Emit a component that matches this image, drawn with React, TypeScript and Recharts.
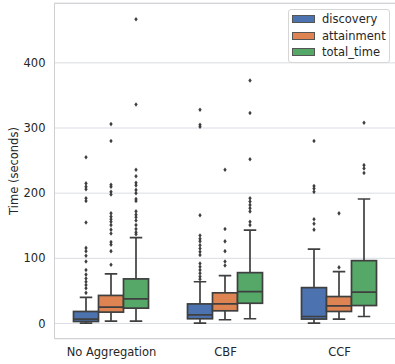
import React from 'react';
import { ComposedChart, Bar, XAxis, YAxis, CartesianGrid, Legend, ReferenceArea, Label } from 'recharts';

const categories = ['No Aggregation', 'CBF', 'CCF'];
const hues = ['discovery', 'attainment', 'total_time'];
const hueColors = ['#4c72b0', '#dd8452', '#55a868'];
const yTicks = [0, 100, 200, 300, 400];
const yDomain = [-23.4, 491.4];

const discoveryLow = [0.5, 0.6, 0.6];
const discoveryQ1 = [3, 7.2, 6.7];
const discoveryMedian = [6.7, 13.3, 10.7];
const discoveryQ3 = [18.4, 30, 55];
const discoveryHigh = [40, 64, 114];
const discoveryOutliers = [
  [255, 215, 210, 206, 192, 188, 155, 116, 111, 104, 95, 82, 75, 69, 64, 59, 54, 47],
  [328, 305, 302, 166, 135, 130, 126, 120, 115, 110, 105, 92, 87, 82, 77, 72, 68],
  [280, 211, 207, 202, 160, 153, 144],
];

const attainmentLow = [3.7, 5.7, 6.7];
const attainmentQ1 = [17.4, 19.4, 18.4];
const attainmentMedian = [25, 30, 27];
const attainmentQ3 = [43, 47, 41.3];
const attainmentHigh = [76, 73.5, 79.6];
const attainmentOutliers = [
  [306, 280, 213, 210, 202, 198, 169, 164, 160, 156, 151, 144, 138, 125, 121, 111, 90],
  [236, 145, 126, 111, 95, 89],
  [169, 86],
];

const totalLow = [3.7, 7.2, 10.7];
const totalQ1 = [23.5, 31, 27.5];
const totalMedian = [37.8, 49, 48];
const totalQ3 = [68.4, 78, 96.4];
const totalHigh = [131.6, 143.4, 191];
const totalOutliers = [
  [467, 336, 236, 226, 216, 212, 205, 200, 191, 188, 172, 167, 163, 158, 151, 145, 140, 137],
  [373, 323, 252, 192, 187, 182, 177, 172, 156, 151],
  [308, 243, 238, 231],
];

const stats: Record<string, any> = {
  discovery: { low: discoveryLow, q1: discoveryQ1, med: discoveryMedian, q3: discoveryQ3, high: discoveryHigh, out: discoveryOutliers },
  attainment: { low: attainmentLow, q1: attainmentQ1, med: attainmentMedian, q3: attainmentQ3, high: attainmentHigh, out: attainmentOutliers },
  total_time: { low: totalLow, q1: totalQ1, med: totalMedian, q3: totalQ3, high: totalHigh, out: totalOutliers },
};

const data = categories.map((c, i) => {
  const row: any = { category: c };
  hues.forEach((h) => {
    row[h] = [stats[h].low[i], stats[h].high[i]];
  });
  return row;
});

const EDGE = '#3f3f3f';
const FONT = 'DejaVu Sans';
const FS = 11.5;
const SW = 1.7;

function makeBoxShape(hue: string, color: string) {
  return (props: any) => {
    const { x, y, width, height, index } = props;
    const s = stats[hue];
    const lo = s.low[index];
    const hi = s.high[index];
    const py = (v: number) => y + ((hi - v) / (hi - lo)) * height;
    const cx = x + width / 2;
    const capHalf = width / 4;
    const yq1 = py(s.q1[index]);
    const yq3 = py(s.q3[index]);
    const ymed = py(s.med[index]);
    const ylo = py(lo);
    const yhi = py(hi);
    return (
      <g>
        <line x1={cx} x2={cx} y1={yq3} y2={yhi} stroke={EDGE} strokeWidth={SW} />
        <line x1={cx} x2={cx} y1={yq1} y2={ylo} stroke={EDGE} strokeWidth={SW} />
        <line x1={cx - capHalf} x2={cx + capHalf} y1={yhi} y2={yhi} stroke={EDGE} strokeWidth={SW} />
        <line x1={cx - capHalf} x2={cx + capHalf} y1={ylo} y2={ylo} stroke={EDGE} strokeWidth={SW} />
        <rect x={x} y={yq3} width={width} height={yq1 - yq3} fill={color} stroke={EDGE} strokeWidth={SW} />
        <line x1={x} x2={x + width} y1={ymed} y2={ymed} stroke={EDGE} strokeWidth={SW} />
        {s.out[index].map((v: number, k: number) => {
          const oy = py(v);
          return (
            <polygon
              key={k}
              points={`${cx},${oy - 2.3} ${cx + 1.7},${oy} ${cx},${oy + 2.3} ${cx - 1.7},${oy}`}
              fill={EDGE}
            />
          );
        })}
      </g>
    );
  };
}

const renderLegend = () => (
  <div
    style={{
      boxSizing: 'border-box',
      width: 102,
      height: 54,
      background: 'rgba(255,255,255,0.85)',
      border: '1px solid #d6d6d6',
      borderRadius: 3,
      position: 'relative',
      fontFamily: FONT,
      fontSize: FS,
      color: '#262626',
    }}
  >
    {hues.map((h, i) => (
      <div key={h} style={{ position: 'absolute', left: 0, top: 1 + i * 16.7, height: 16.7, width: 100 }}>
        <div
          style={{
            position: 'absolute',
            left: 3,
            top: 4,
            width: 23,
            height: 8,
            boxSizing: 'border-box',
            background: hueColors[i],
            border: '1px solid #555',
          }}
        />
        <div style={{ position: 'absolute', left: 33, top: 0, lineHeight: '16.7px', whiteSpace: 'nowrap' }}>{h}</div>
      </div>
    ))}
  </div>
);

const yLabelContent = (p: any) => {
  const vb = p.viewBox;
  const cx = vb.x + 14;
  const cy = vb.y + vb.height / 2;
  return (
    <text
      x={cx}
      y={cy}
      transform={`rotate(-90, ${cx}, ${cy})`}
      textAnchor="middle"
      dominantBaseline="central"
      fontFamily={FONT}
      fontSize={FS}
      fill="#262626"
    >
      Time (seconds)
    </text>
  );
};

export default function App() {
  return (
    <div style={{ position: 'absolute', left: 0, top: 0, width: 395, height: 364, overflow: 'hidden', background: '#fff' }}>
      <ComposedChart
        width={398}
        height={364}
        data={data}
        margin={{ top: 3.3, right: 1.5, bottom: 0, left: 0 }}
        barCategoryGap={19}
        barGap={0}
      >
        <CartesianGrid vertical={false} stroke="#d9dde3" strokeWidth={1} />
        <ReferenceArea y1={yDomain[0]} y2={yDomain[1]} fill="none" stroke="#cfcfcf" strokeWidth={1} ifOverflow="visible" />
        <XAxis
          dataKey="category"
          type="category"
          height={25.3}
          axisLine={false}
          tickLine={false}
          tickSize={0}
          tickMargin={9}
          tick={{ fontFamily: FONT, fontSize: FS, fill: '#262626' }}
        />
        <YAxis
          type="number"
          domain={yDomain}
          allowDataOverflow
          ticks={yTicks}
          width={54.5}
          axisLine={false}
          tickLine={false}
          tickSize={0}
          tickMargin={9}
          tick={{ fontFamily: FONT, fontSize: FS, fill: '#262626' }}
        >
          <Label content={yLabelContent} />
        </YAxis>
        <Legend
          layout="vertical"
          align="center"
          verticalAlign="middle"
          content={renderLegend}
          wrapperStyle={{ position: 'absolute', left: 288, top: 9, width: 102, height: 54 }}
        />
        {hues.map((h, i) => (
          <Bar key={h} dataKey={h} name={h} fill={hueColors[i]} isAnimationActive={false} shape={makeBoxShape(h, hueColors[i])} />
        ))}
      </ComposedChart>
    </div>
  );
}
